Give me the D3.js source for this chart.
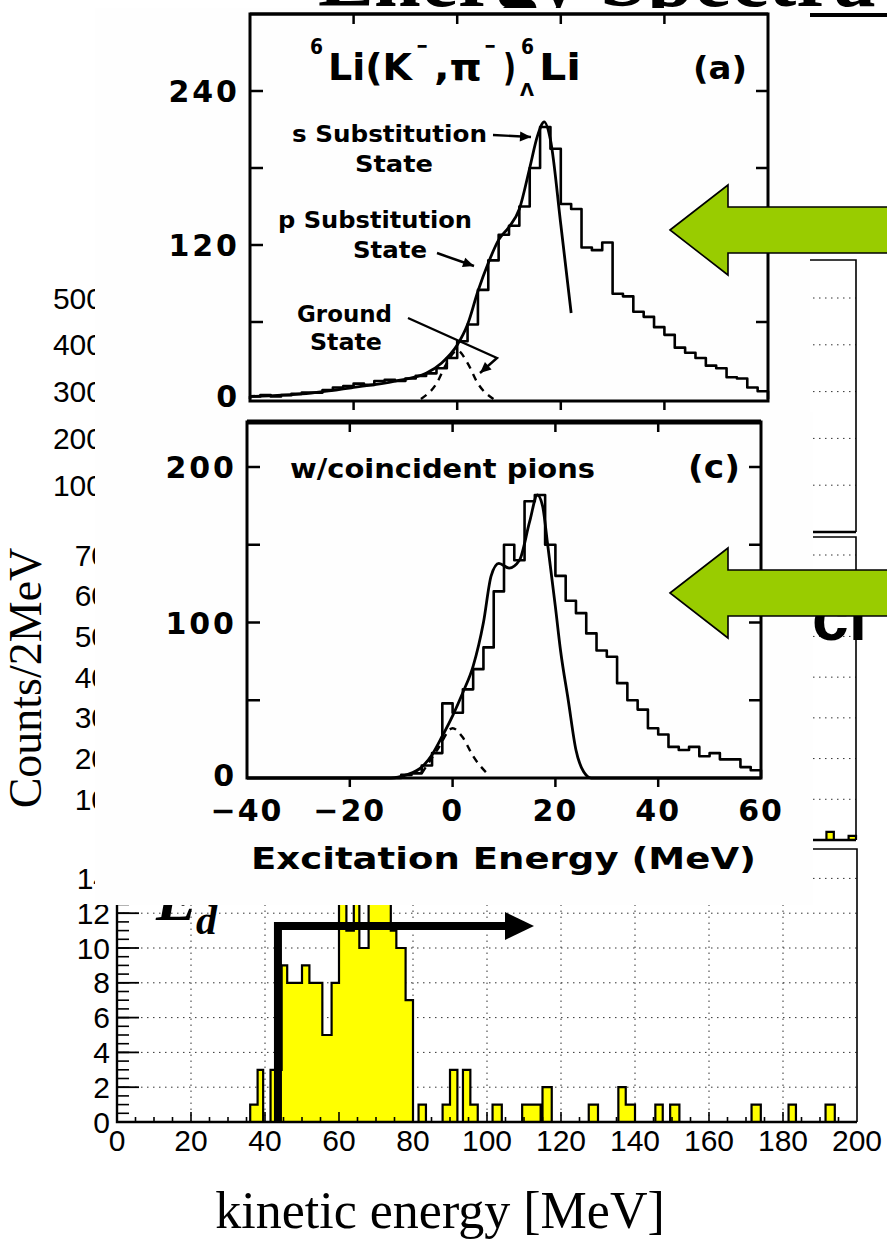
<!DOCTYPE html>
<html>
<head>
<meta charset="utf-8">
<title>Hypernuclear spectra</title>
<script src="https://cdn.jsdelivr.net/npm/d3@7"></script>
<style>
  body { margin: 0; background: #fff; }
  svg { display: block; }
</style>
</head>
<body>
<svg id="chart" width="887" height="1253"></svg>
<script>
"use strict";

/* ---------- values ---------- */

// bottom spectrum: kinetic energy [MeV], bin edges and counts per bin
var kinEdges = [0, 36, 38, 39.5, 41.5, 44.5, 46, 50, 52, 55.5, 58, 60, 62, 64,
    65.5, 68, 74, 75.5, 78, 80, 81.5, 83.5, 88, 90, 92, 93.5, 95.5, 97.5,
    101.5, 104, 109.5, 114.5, 115, 117.5, 127.5, 130, 135.5, 137.5, 140,
    145.5, 147.5, 149.5, 152, 171.5, 174, 181.5, 183.5, 191.5, 194, 200];
var kinCounts = [0, 1, 3, 0, 3, 9, 8, 9, 8, 5, 8, 15, 11, 15, 10, 15, 11, 10,
    7, 0, 1, 0, 1, 3, 0, 3, 1, 0, 1, 0, 1, 0, 2, 0, 1, 0, 2, 1, 0, 1, 0, 1, 0,
    1, 0, 1, 0, 1, 0];
var kinXTicks = [0, 20, 40, 60, 80, 100, 120, 140, 160, 180, 200];
var kinYTicks = [0, 2, 4, 6, 8, 10, 12, 14];

// middle spectrum (only its right end shows)
var midEdges = [0, 192, 194, 198, 200];
var midCounts = [0, 2, 0, 1];
var midYTicks = [0, 10, 20, 30, 40, 50, 60, 70];

// top spectrum (only its axis labels show)
var topYTicks = [0, 100, 200, 300, 400, 500];

// scanned panels: excitation energy [MeV], 2 MeV bins from -40 to 60
var excEdges = d3.range(-40, 61, 2);
var excXTicks = [-40, -20, 0, 20, 40, 60];

// (a) 6Li(K-,pi-)6_Lambda Li
var aCounts = [2, 3, 2, 3, 4, 5, 5, 7, 9, 10, 12, 11, 14, 15, 14, 16, 18, 20,
    24, 32, 45, 58, 85, 108, 128, 135, 150, 180, 212, 195, 152, 148, 118, 116,
    122, 82, 80, 68, 64, 56, 50, 40, 36, 32, 26, 24, 17, 16, 9, 6];
var aFit = [[-40, 2], [-30, 4], [-20, 9], [-12, 14], [-6, 20], [-3, 28],
    [0, 42], [2, 58], [4, 84], [6, 106], [8, 124], [10, 134], [12, 148],
    [14, 180], [15.5, 205], [16.8, 216], [18, 202], [20, 136], [22, 67]];
var aGround = [[-7, 0], [-4, 12], [-2, 28], [0, 38], [2, 28], [4, 12], [7, 0]];
var aYTicks = [0, 120, 240];
var aYMinor = [60, 180];

// (c) with coincident pions
var cCounts = [0, 0, 0, 0, 0, 0, 0, 0, 0, 0, 0, 0, 0, 0, 0, 2, 3, 8, 16, 48,
    42, 57, 70, 84, 120, 150, 140, 178, 182, 150, 130, 114, 106, 93, 82, 78,
    61, 50, 44, 32, 28, 20, 18, 20, 14, 16, 12, 12, 7, 5];
var cFit = [[-40, 0], [-12, 0], [-9, 2], [-6, 7], [-4, 15], [-2, 27], [0, 40],
    [2, 55], [4, 72], [6, 100], [7.5, 130], [9, 138], [11, 135], [13, 140],
    [15, 165], [16.5, 182], [17.5, 175], [18.5, 150], [20, 110], [21, 82],
    [22.5, 50], [24, 18], [25.5, 4], [27, 0], [60, 0]];
var cGround = [[-6, 3], [-3, 18], [0, 32], [2, 26], [4, 14], [7, 2]];
var cYTicks = [0, 100, 200];
var cYMinor = [50, 150];

/* ---------- drawing ---------- */

var svg = d3.select("#chart");
var rootFont = "'Liberation Sans', Arial, sans-serif";
var scanFont = "'DejaVu Sans', 'Liberation Sans', sans-serif";
var serif = "'Liberation Serif', 'Times New Roman', serif";
var green = "#99cc00";

var stepPoints = function (edges, counts) {
    var pts = [[edges[0], 0]];
    counts.forEach(function (c, i) {
        pts.push([edges[i], c]);
    });
    pts.push([edges[edges.length - 1], counts[counts.length - 1]]);
    pts.push([edges[edges.length - 1], 0]);
    return pts;
};

// slide title, almost all of it under the pasted figure
svg.append("text")
    .attr("x", 318).attr("y", 6)
    .attr("font-family", serif).attr("font-weight", "bold")
    .attr("font-size", 84)
    .text("Energy Spectra");
svg.append("rect")
    .attr("x", 809).attr("y", 13).attr("width", 80).attr("height", 4)
    .attr("fill", "#000");

// ---- ROOT style panels behind the pasted figure ----
var rootPanel = function (opt) {
    var g = svg.append("g");
    var x = d3.scaleLinear().domain([0, 200]).range([117, opt.right]);
    var y = opt.y;

    // dotted grid
    g.selectAll("line.hgrid")
        .data(opt.yTicks.filter(function (d) { return d > 0; }))
        .join("line")
        .attr("x1", 117).attr("x2", opt.right)
        .attr("y1", y).attr("y2", y)
        .attr("stroke", "#333").attr("stroke-width", 1)
        .attr("stroke-dasharray", "1.5,4.5");
    if (opt.xGrid) {
        g.selectAll("line.vgrid")
            .data(kinXTicks.slice(1, -1))
            .join("line")
            .attr("x1", x).attr("x2", x)
            .attr("y1", opt.bottom).attr("y2", opt.top)
            .attr("stroke", "#333").attr("stroke-width", 1)
            .attr("stroke-dasharray", "1.5,4.5");
    }

    if (opt.edges) {
        var pts = stepPoints(opt.edges, opt.counts);
        g.append("path")
            .datum(pts)
            .attr("fill", "#ffff00")
            .attr("d", d3.area().curve(d3.curveStepAfter)
                .x(function (d) { return x(d[0]); })
                .y0(opt.bottom)
                .y1(function (d) { return Math.max(opt.top, y(d[1])); }));
        g.append("path")
            .datum(pts)
            .attr("fill", "none").attr("stroke", "#000")
            .attr("stroke-width", 2.2)
            .attr("d", d3.line().curve(d3.curveStepAfter)
                .x(function (d) { return x(d[0]); })
                .y(function (d) { return Math.max(opt.top, y(d[1])); }));
    }

    // frame
    g.append("path")
        .attr("d", "M117," + opt.top + "H" + opt.right + "V" + opt.bottom)
        .attr("fill", "none").attr("stroke", "#000").attr("stroke-width", 1.6);
    g.append("path")
        .attr("d", "M117," + opt.top + "V" + opt.bottom + "H" + opt.right)
        .attr("fill", "none").attr("stroke", "#000").attr("stroke-width", 2.4);

    // y ticks
    if (opt.minor) {
        g.selectAll("line.ymin")
            .data(opt.minor)
            .join("line")
            .attr("x1", 117).attr("x2", 129)
            .attr("y1", y).attr("y2", y)
            .attr("stroke", "#000").attr("stroke-width", 1.6);
    }
    g.selectAll("line.ymaj")
        .data(opt.yTicks)
        .join("line")
        .attr("x1", 117).attr("x2", 139)
        .attr("y1", y).attr("y2", y)
        .attr("stroke", "#000").attr("stroke-width", 1.8);
    // the zero label of an upper pad sits under the pad below it
    g.selectAll("text.ylab")
        .data(opt.yTicks.filter(function (d) {
            return opt.showZero || d > 0;
        }))
        .join("text")
        .attr("x", opt.labelEnd)
        .attr("y", function (d) { return y(d) + 10.5; })
        .attr("text-anchor", "end")
        .attr("font-family", rootFont).attr("font-size", 30)
        .text(function (d) { return d; });
    return x;
};

rootPanel({
    y: d3.scaleLinear().domain([0, 500]).range([532, 298]),
    yTicks: topYTicks, top: 260, bottom: 532, right: 856, labelEnd: 103
});
rootPanel({
    y: d3.scaleLinear().domain([0, 70]).range([840, 555]),
    yTicks: midYTicks, top: 537, bottom: 840, right: 856, labelEnd: 108,
    edges: midEdges, counts: midCounts
});

var kinY = d3.scaleLinear().domain([0, 14]).range([1122, 878.4]);
var kinX = rootPanel({
    y: kinY,
    yTicks: kinYTicks, top: 849, bottom: 1122, right: 857, labelEnd: 110,
    edges: kinEdges, counts: kinCounts, xGrid: true, showZero: true,
    minor: d3.range(0, 15.6, 0.5)
});

// x axis ticks and labels of the kinetic energy spectrum
svg.append("g")
    .selectAll("line")
    .data(d3.range(5, 200, 5))
    .join("line")
    .attr("x1", kinX).attr("x2", kinX)
    .attr("y1", 1122)
    .attr("y2", function (d) { return d % 20 === 0 ? 1112 : 1117; })
    .attr("stroke", "#000").attr("stroke-width", 1.6);
svg.append("g")
    .selectAll("text")
    .data(kinXTicks)
    .join("text")
    .attr("x", kinX).attr("y", 1151)
    .attr("text-anchor", "middle")
    .attr("font-family", rootFont).attr("font-size", 30)
    .text(function (d) { return d; });

// E_d marker with its threshold arrow
svg.append("text")
    .attr("x", 156).attr("y", 920)
    .attr("font-family", serif).attr("font-weight", "bold")
    .attr("font-style", "italic").attr("font-size", 62)
    .text("E");
svg.append("text")
    .attr("x", 196).attr("y", 934)
    .attr("font-family", serif).attr("font-weight", "bold")
    .attr("font-style", "italic").attr("font-size", 42)
    .text("d");
svg.append("path")
    .attr("d", "M" + kinX(43.5) + ",1122V926H507")
    .attr("fill", "none").attr("stroke", "#000").attr("stroke-width", 8);
svg.append("path")
    .attr("d", "M505,912L534,926L505,940Z")
    .attr("fill", "#000");

// axis titles of the slide
svg.append("text")
    .attr("transform", "translate(41,678) rotate(-90)")
    .attr("text-anchor", "middle")
    .attr("font-family", serif).attr("font-size", 46)
    .text("Counts/2MeV");
svg.append("text")
    .attr("x", 440).attr("y", 1228)
    .attr("text-anchor", "middle")
    .attr("font-family", serif).attr("font-size", 52)
    .text("kinetic energy [MeV]");

// fragments of slide text on the right
svg.append("text")
    .attr("x", 812).attr("y", 640)
    .attr("font-family", rootFont).attr("font-weight", "bold")
    .attr("font-size", 66)
    .text("cl");

// ---- pasted scanned figure ----
svg.append("rect")
    .attr("x", 95).attr("y", 8).attr("width", 715).attr("height", 404)
    .attr("fill", "#fefefe");
svg.append("rect")
    .attr("x", 95).attr("y", 412).attr("width", 718).attr("height", 493)
    .attr("fill", "#fefefe");

var scanPanel = function (opt) {
    var g = svg.append("g");
    var x = d3.scaleLinear().domain([-40, 60]).range([opt.left, opt.right]);
    var y = opt.y;
    var edges = excEdges;

    g.append("path")
        .datum(stepPoints(edges, opt.counts))
        .attr("fill", "none").attr("stroke", "#000")
        .attr("stroke-width", 2.6).attr("stroke-linejoin", "round")
        .attr("d", d3.line().curve(d3.curveStepAfter)
            .x(function (d) { return x(d[0]); })
            .y(function (d) { return y(d[1]); }));
    g.append("path")
        .datum(opt.fit)
        .attr("fill", "none").attr("stroke", "#000")
        .attr("stroke-width", 2.8)
        .attr("d", d3.line().curve(d3.curveMonotoneX)
            .x(function (d) { return x(d[0]); })
            .y(function (d) { return y(d[1]); }));
    g.append("path")
        .datum(opt.ground)
        .attr("fill", "none").attr("stroke", "#000")
        .attr("stroke-width", 2.4).attr("stroke-dasharray", "7,6")
        .attr("d", d3.line().curve(d3.curveMonotoneX)
            .x(function (d) { return x(d[0]); })
            .y(function (d) { return y(d[1]); }));

    // frame
    g.append("rect")
        .attr("x", opt.left).attr("y", opt.top)
        .attr("width", opt.right - opt.left)
        .attr("height", opt.bottom - opt.top)
        .attr("fill", "none").attr("stroke", "#000").attr("stroke-width", 3);
    g.append("line")
        .attr("x1", opt.left).attr("x2", opt.right)
        .attr("y1", opt.top).attr("y2", opt.top)
        .attr("stroke", "#000").attr("stroke-width", opt.topWidth);

    // x ticks: inward at the top, outward at the bottom
    var inner = excXTicks.slice(1, -1);
    g.selectAll("line.xt")
        .data(inner)
        .join("line")
        .attr("x1", x).attr("x2", x)
        .attr("y1", opt.top).attr("y2", opt.top + 10)
        .attr("stroke", "#000").attr("stroke-width", 2.5);
    g.selectAll("line.xb")
        .data(inner)
        .join("line")
        .attr("x1", x).attr("x2", x)
        .attr("y1", opt.bottom).attr("y2", opt.bottom + 9)
        .attr("stroke", "#000").attr("stroke-width", 2.5);

    // y ticks on both sides
    var yAll = opt.yTicks.concat(opt.yMinor).filter(function (d) {
        return d > 0;
    });
    g.selectAll("line.yl")
        .data(yAll)
        .join("line")
        .attr("x1", opt.left).attr("x2", opt.left + 13)
        .attr("y1", y).attr("y2", y)
        .attr("stroke", "#000").attr("stroke-width", 2.5);
    g.selectAll("line.yr")
        .data(yAll)
        .join("line")
        .attr("x1", opt.right - 12).attr("x2", opt.right)
        .attr("y1", y).attr("y2", y)
        .attr("stroke", "#000").attr("stroke-width", 2.5);
    g.selectAll("text.yl")
        .data(opt.yTicks)
        .join("text")
        .attr("x", opt.left - 10)
        .attr("y", function (d) { return y(d) + (d === 0 ? 8 : 11); })
        .attr("text-anchor", "end")
        .attr("font-family", scanFont).attr("font-weight", "bold")
        .attr("font-size", 30).attr("letter-spacing", 3)
        .text(function (d) { return d; });
    return x;
};

var aY = d3.scaleLinear().domain([0, 240]).range([399, 91]);
scanPanel({
    left: 250, right: 768, top: 14, bottom: 401, topWidth: 3,
    y: aY, counts: aCounts, fit: aFit, ground: aGround,
    yTicks: aYTicks, yMinor: aYMinor
});

var cY = d3.scaleLinear().domain([0, 200]).range([778, 467]);
var cX = scanPanel({
    left: 247, right: 761, top: 422, bottom: 778, topWidth: 5,
    y: cY, counts: cCounts, fit: cFit, ground: cGround,
    yTicks: cYTicks, yMinor: cYMinor
});

svg.append("g")
    .selectAll("text")
    .data(excXTicks)
    .join("text")
    .attr("x", cX).attr("y", 821)
    .attr("text-anchor", "middle")
    .attr("font-family", scanFont).attr("font-weight", "bold")
    .attr("font-size", 30).attr("letter-spacing", 2)
    .text(function (d) { return d < 0 ? "\u2212" + (-d) : d; });

var scanText = function (x, y, size, len, str) {
    return svg.append("text")
        .attr("x", x).attr("y", y)
        .attr("font-family", scanFont).attr("font-weight", "bold")
        .attr("font-size", size)
        .attr("textLength", len).attr("lengthAdjust", "spacingAndGlyphs")
        .text(str);
};

scanText(251, 869, 31, 505, "Excitation Energy (MeV)");
scanText(290, 478, 27, 305, "w/coincident pions");
scanText(688, 478, 32, 52, "(c)");
scanText(693, 79, 32, 54, "(a)");

// reaction label 6Li(K-,pi-)6_Lambda Li
scanText(310, 54, 22, 13, "6");
scanText(328, 80, 38, 84, "Li(K");
scanText(416, 54, 24, 12, "\u2212");
scanText(434, 80, 38, 48, ",\u03c0");
scanText(484, 54, 24, 12, "\u2212");
scanText(503, 80, 38, 13, ")");
scanText(521, 54, 22, 13, "6");
scanText(520, 96, 17, 14, "\u039b");
scanText(539, 80, 38, 42, "Li");

// state annotations
scanText(292, 142, 23, 195, "s Substitution");
scanText(355, 172, 23, 78, "State");
scanText(278, 228, 23, 194, "p Substitution");
scanText(353, 258, 23, 74, "State");
scanText(297, 322, 23, 95, "Ground");
scanText(310, 350, 23, 72, "State");

var arrowLine = function (pts) {
    var n = pts.length;
    var a = pts[n - 2], b = pts[n - 1];
    var ang = Math.atan2(b[1] - a[1], b[0] - a[0]);
    var hl = 11, hw = 5;
    svg.append("path")
        .attr("d", d3.line()(pts))
        .attr("fill", "none").attr("stroke", "#000").attr("stroke-width", 2.4);
    svg.append("path")
        .attr("d", "M" + b[0] + "," + b[1] +
            "L" + (b[0] - hl * Math.cos(ang) + hw * Math.sin(ang)) + "," +
            (b[1] - hl * Math.sin(ang) - hw * Math.cos(ang)) +
            "L" + (b[0] - hl * Math.cos(ang) - hw * Math.sin(ang)) + "," +
            (b[1] - hl * Math.sin(ang) + hw * Math.cos(ang)) + "Z")
        .attr("fill", "#000");
};
arrowLine([[493, 135], [531, 137]]);
arrowLine([[437, 253], [474, 266]]);
arrowLine([[408, 318], [497, 358], [480, 373]]);

// ---- green arrows pasted on top ----
var greenArrow = function (tipY) {
    svg.append("path")
        .attr("d", "M670," + tipY +
            "L728," + (tipY - 45) + "V" + (tipY - 23) + "H892V" + (tipY + 23) +
            "H728V" + (tipY + 45) + "Z")
        .attr("fill", green).attr("stroke", "#000").attr("stroke-width", 1.6);
};
greenArrow(230);
greenArrow(593);
</script>
</body>
</html>
